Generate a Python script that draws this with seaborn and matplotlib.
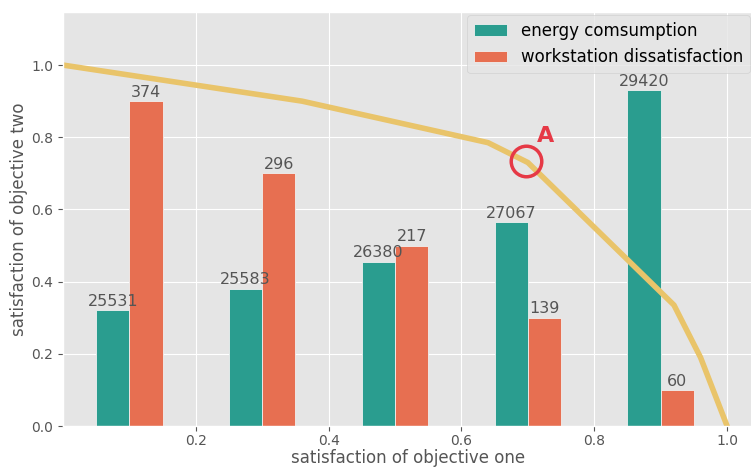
import matplotlib as mpl
import matplotlib.pyplot as plt
import seaborn as sns
import pandas as pd

# Bar data
X_POS = [0.1, 0.3, 0.5, 0.7, 0.9]
ENERGY_H = [0.32, 0.38, 0.455, 0.565, 0.93]
DISSAT_H = [0.90, 0.70, 0.50, 0.30, 0.10]
ENERGY_LBL = [25531, 25583, 26380, 27067, 29420]
DISSAT_LBL = [374, 296, 217, 139, 60]

# Pareto front line
FRONT_X = [0.0, 0.36, 0.64, 0.70, 0.92, 0.96, 1.0]
FRONT_Y = [1.0, 0.90, 0.785, 0.73, 0.335, 0.19, 0.0]

# Highlighted point
PT_A = (0.697, 0.735)

GREEN = '#2a9d8f'
ORANGE = '#e76f51'
YELLOW = '#e9c46a'
RED = '#e63946'

plt.style.use('ggplot')
mpl.rcParams['font.family'] = ['DejaVu Sans']

data = pd.DataFrame({
    'x': X_POS + X_POS,
    'y': ENERGY_H + DISSAT_H,
    'kind': ['energy comsumption'] * 5 + ['workstation dissatisfaction'] * 5,
})

fig = plt.figure(figsize=(7.51, 4.68), dpi=100)
ax = fig.add_axes([63 / 751, 42 / 468, 690 / 751, 414 / 468])

sns.barplot(data=data, x='x', y='y', hue='kind', native_scale=True, width=0.5,
            palette=[GREEN, ORANGE], saturation=1, edgecolor='#f0f0f0',
            linewidth=0.6, ax=ax)

for cont, lbls in zip(ax.containers, [ENERGY_LBL, DISSAT_LBL]):
    ax.bar_label(cont, labels=[str(v) for v in lbls], fontsize=11.5, color='#555555', padding=1)

sns.lineplot(x=FRONT_X, y=FRONT_Y, color=YELLOW, linewidth=4, sort=False, ax=ax, legend=False)

ax.plot([PT_A[0]], [PT_A[1]], marker='o', markersize=22, markerfacecolor='none',
        markeredgecolor=RED, markeredgewidth=2.5, zorder=5)
ax.text(PT_A[0] + 0.016, PT_A[1] + 0.04, 'A', color=RED, fontsize=16, fontweight='bold',
        ha='left', va='bottom')

ax.set_xlim(0, 1.039)
ax.set_ylim(0, 1.147)
ax.set_xticks([0.2, 0.4, 0.6, 0.8, 1.0])
ax.set_yticks([0.0, 0.2, 0.4, 0.6, 0.8, 1.0])
ax.tick_params(labelsize=10, colors='#555555')
ax.tick_params(axis='x', pad=2)
ax.set_xlabel('satisfaction of objective one', fontsize=12, color='#555555', labelpad=1)
ax.set_ylabel('satisfaction of objective two', fontsize=12, color='#555555', labelpad=2)

leg = ax.legend(loc='upper right', fontsize=12, borderaxespad=0.2)
leg.set_title(None)

plt.savefig('out.png', dpi=100)
